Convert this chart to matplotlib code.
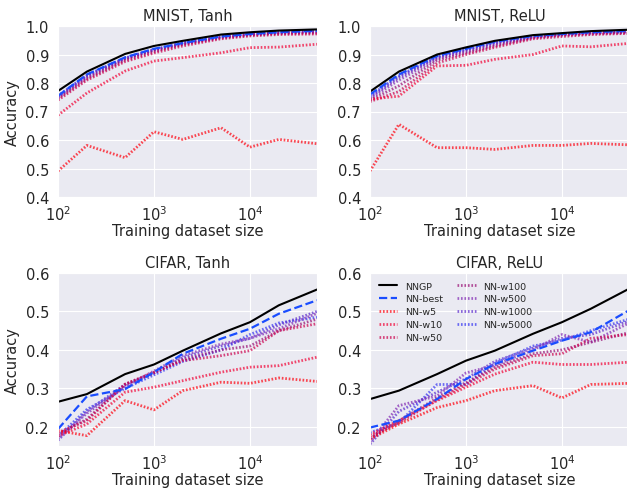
import matplotlib
matplotlib.use("Agg")
import matplotlib.pyplot as plt
import seaborn as sns

sns.set_style("darkgrid")
plt.rcParams['font.family'] = ['DejaVu Sans']

sizes = [100, 200, 500, 1000, 2000, 5000, 10000, 20000, 50000]
series_names = ["NNGP", "NN-best", "NN-w5", "NN-w10", "NN-w50", "NN-w100",
                "NN-w500", "NN-w1000", "NN-w5000"]

mnist_tanh = {
    "NNGP":     [0.772, 0.84, 0.902, 0.93, 0.948, 0.970, 0.978, 0.984, 0.988],
    "NN-best":  [0.755, 0.83, 0.890, 0.920, 0.940, 0.963, 0.972, 0.978, 0.983],
    "NN-w5":    [0.491, 0.581, 0.538, 0.629, 0.602, 0.643, 0.575, 0.602, 0.587],
    "NN-w10":   [0.687, 0.765, 0.842, 0.877, 0.889, 0.906, 0.924, 0.926, 0.936],
    "NN-w50":   [0.740, 0.810, 0.875, 0.905, 0.930, 0.955, 0.965, 0.970, 0.972],
    "NN-w100":  [0.745, 0.815, 0.880, 0.910, 0.935, 0.958, 0.968, 0.973, 0.975],
    "NN-w500":  [0.750, 0.820, 0.885, 0.915, 0.937, 0.960, 0.970, 0.975, 0.978],
    "NN-w1000": [0.752, 0.825, 0.886, 0.916, 0.940, 0.962, 0.971, 0.977, 0.980],
    "NN-w5000": [0.755, 0.828, 0.888, 0.918, 0.941, 0.963, 0.972, 0.978, 0.982],
}
mnist_relu = {
    "NNGP":     [0.770, 0.840, 0.900, 0.925, 0.948, 0.968, 0.975, 0.982, 0.987],
    "NN-best":  [0.760, 0.830, 0.895, 0.920, 0.945, 0.965, 0.972, 0.978, 0.983],
    "NN-w5":    [0.491, 0.655, 0.573, 0.573, 0.567, 0.581, 0.581, 0.588, 0.583],
    "NN-w10":   [0.743, 0.754, 0.860, 0.862, 0.883, 0.900, 0.930, 0.927, 0.939],
    "NN-w50":   [0.735, 0.770, 0.870, 0.900, 0.925, 0.955, 0.963, 0.970, 0.974],
    "NN-w100":  [0.740, 0.790, 0.880, 0.905, 0.930, 0.958, 0.967, 0.972, 0.976],
    "NN-w500":  [0.745, 0.810, 0.885, 0.910, 0.935, 0.960, 0.970, 0.975, 0.978],
    "NN-w1000": [0.750, 0.820, 0.890, 0.915, 0.940, 0.962, 0.971, 0.976, 0.980],
    "NN-w5000": [0.755, 0.825, 0.892, 0.918, 0.942, 0.964, 0.972, 0.977, 0.981],
}
cifar_tanh = {
    "NNGP":     [0.265, 0.285, 0.337, 0.362, 0.398, 0.443, 0.472, 0.516, 0.557],
    "NN-best":  [0.194, 0.279, 0.298, 0.342, 0.390, 0.429, 0.455, 0.494, 0.529],
    "NN-w5":    [0.190, 0.177, 0.268, 0.244, 0.294, 0.316, 0.313, 0.327, 0.318],
    "NN-w10":   [0.176, 0.207, 0.290, 0.303, 0.320, 0.342, 0.355, 0.359, 0.381],
    "NN-w50":   [0.185, 0.216, 0.311, 0.342, 0.372, 0.385, 0.398, 0.450, 0.468],
    "NN-w100":  [0.180, 0.220, 0.310, 0.340, 0.375, 0.400, 0.410, 0.450, 0.480],
    "NN-w500":  [0.170, 0.235, 0.305, 0.345, 0.385, 0.415, 0.430, 0.455, 0.495],
    "NN-w1000": [0.165, 0.240, 0.310, 0.340, 0.380, 0.410, 0.430, 0.465, 0.500],
    "NN-w5000": [0.175, 0.245, 0.300, 0.335, 0.370, 0.400, 0.440, 0.470, 0.485],
}
cifar_relu = {
    "NNGP":     [0.272, 0.294, 0.337, 0.372, 0.398, 0.442, 0.472, 0.507, 0.559],
    "NN-best":  [0.198, 0.216, 0.272, 0.324, 0.363, 0.398, 0.424, 0.446, 0.503],
    "NN-w5":    [0.168, 0.207, 0.250, 0.268, 0.294, 0.307, 0.275, 0.310, 0.313],
    "NN-w10":   [0.180, 0.216, 0.268, 0.303, 0.337, 0.368, 0.362, 0.362, 0.368],
    "NN-w50":   [0.175, 0.210, 0.270, 0.310, 0.350, 0.385, 0.390, 0.430, 0.440],
    "NN-w100":  [0.170, 0.215, 0.275, 0.315, 0.355, 0.390, 0.400, 0.420, 0.445],
    "NN-w500":  [0.160, 0.255, 0.280, 0.340, 0.360, 0.400, 0.440, 0.420, 0.470],
    "NN-w1000": [0.155, 0.240, 0.290, 0.325, 0.370, 0.405, 0.430, 0.440, 0.475],
    "NN-w5000": [0.185, 0.210, 0.310, 0.310, 0.365, 0.410, 0.425, 0.450, 0.480],
}

panel_titles = ["MNIST, Tanh", "MNIST, ReLU", "CIFAR, Tanh", "CIFAR, ReLU"]
panel_data = [mnist_tanh, mnist_relu, cifar_tanh, cifar_relu]
panel_ylims = [(0.4, 1.0), (0.4, 1.0), (0.15, 0.6), (0.15, 0.6)]

dots = (0, (0.6, 0.65))
styles = {
    "NNGP":     dict(color="black", ls="-", lw=1.5, alpha=1.0),
    "NN-best":  dict(color=(0.1, 0.3, 1.0), ls="--", lw=1.6, alpha=1.0),
    "NN-w5":    dict(color=(1.0, 0.0, 0.05), ls=dots, lw=2.0, alpha=0.7),
    "NN-w10":   dict(color=(0.95, 0.0, 0.2), ls=dots, lw=2.0, alpha=0.7),
    "NN-w50":   dict(color=(0.8, 0.0, 0.3), ls=dots, lw=2.0, alpha=0.7),
    "NN-w100":  dict(color=(0.6, 0.05, 0.45), ls=dots, lw=2.0, alpha=0.7),
    "NN-w500":  dict(color=(0.5, 0.15, 0.7), ls=dots, lw=2.0, alpha=0.7),
    "NN-w1000": dict(color=(0.35, 0.15, 0.8), ls=dots, lw=2.0, alpha=0.7),
    "NN-w5000": dict(color=(0.2, 0.2, 0.95), ls=dots, lw=2.0, alpha=0.7),
}

fig = plt.figure(figsize=(6.27, 4.89), dpi=100)
positions = [
    [58/627, 1-198/489, 259/627, 171/489],
    [370/627, 1-198/489, 259/627, 171/489],
    [58/627, 1-447/489, 259/627, 173/489],
    [370/627, 1-447/489, 259/627, 173/489],
]

fs = 10.5
for i, (pos, title, data, ylim) in enumerate(zip(positions, panel_titles, panel_data, panel_ylims)):
    ax = fig.add_axes(pos)
    for name in series_names[::-1]:
        st = styles[name]
        ax.plot(sizes, data[name], label=name, color=st["color"], linestyle=st["ls"],
                linewidth=st["lw"], alpha=st["alpha"])
    ax.set_xscale("log")
    ax.set_xlim(100, 50000)
    ax.set_ylim(*ylim)
    ax.minorticks_off()
    ax.set_xticks([100, 1000, 10000])
    if i < 2:
        ax.set_yticks([0.4, 0.5, 0.6, 0.7, 0.8, 0.9, 1.0])
    else:
        ax.set_yticks([0.2, 0.3, 0.4, 0.5, 0.6])
    ax.tick_params(axis="x", labelsize=fs, colors="#262626", pad=2)
    ax.tick_params(axis="y", labelsize=fs, colors="#262626", pad=3)
    ax.set_title(title, fontsize=fs, color="#262626", pad=4)
    ax.set_xlabel("Training dataset size", fontsize=fs, color="#262626", labelpad=0)
    if i % 2 == 0:
        ax.set_ylabel("Accuracy", fontsize=fs, color="#262626")
    if i == 3:
        handles, labels = ax.get_legend_handles_labels()
        order = [labels.index(n) for n in series_names]
        ax.legend([handles[k] for k in order], [labels[k] for k in order],
                  loc="upper left", ncol=2, fontsize=6.8, frameon=False,
                  columnspacing=1.5, labelspacing=0.42)

fig.savefig("out.png", dpi=100)
